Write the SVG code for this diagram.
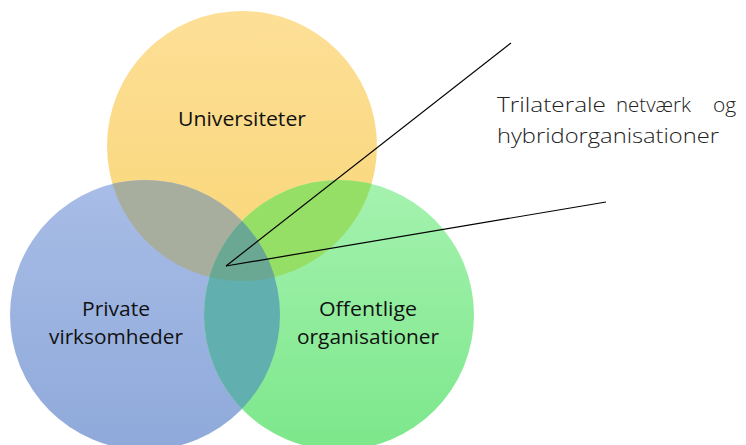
<svg xmlns="http://www.w3.org/2000/svg" width="746" height="445" viewBox="0 0 746 445">
<style>
.lbl{font-family:"Open Sans","Liberation Sans",sans-serif;font-size:20px;fill:#111;text-anchor:middle}
.call{font-family:"Open Sans","Liberation Sans",sans-serif;font-weight:300;font-size:21px;fill:#222}
.ln{stroke:#000;stroke-width:1.2;fill:none}
</style>
<defs>
<linearGradient id="gY" x1="0" y1="0" x2="0" y2="1"><stop offset="0" stop-color="#FDDF97"/><stop offset="1" stop-color="#F8D676"/></linearGradient>
<linearGradient id="gB" x1="0" y1="0" x2="0" y2="1"><stop offset="0" stop-color="#A8BDE7"/><stop offset="1" stop-color="#8FA9DA"/></linearGradient>
<linearGradient id="gG" x1="0" y1="0" x2="0" y2="1"><stop offset="0" stop-color="#A5F2AF"/><stop offset="1" stop-color="#7CE78B"/></linearGradient>
<clipPath id="cY"><circle cx="242" cy="146" r="135"/></clipPath>
<clipPath id="cB"><circle cx="145" cy="315" r="135"/></clipPath>
</defs>
<g id="universiteter">
<circle cx="242" cy="146" r="135" fill="url(#gY)"/>
<text class="lbl" x="242" y="126" font-size="22" textLength="128" lengthAdjust="spacingAndGlyphs">Universiteter</text>
</g>
<g id="private">
<circle cx="145" cy="315" r="135" fill="url(#gB)"/>
<text class="lbl" x="116" y="316" textLength="68" lengthAdjust="spacingAndGlyphs">Private</text>
<text class="lbl" x="116" y="344" textLength="134" lengthAdjust="spacingAndGlyphs">virksomheder</text>
</g>
<g id="offentlige">
<circle cx="339" cy="315" r="135" fill="url(#gG)"/>
<text class="lbl" x="368" y="316" textLength="98" lengthAdjust="spacingAndGlyphs">Offentlige</text>
<text class="lbl" x="368" y="344" textLength="142" lengthAdjust="spacingAndGlyphs">organisationer</text>
</g>
<g id="overlaps">
<g clip-path="url(#cY)"><circle cx="145" cy="315" r="135" fill="#A8AE9E"/></g>
<g clip-path="url(#cY)"><circle cx="339" cy="315" r="135" fill="#96DF66"/></g>
<g clip-path="url(#cB)"><circle cx="339" cy="315" r="135" fill="#61AFAE"/></g>
<g clip-path="url(#cY)"><g clip-path="url(#cB)"><circle cx="339" cy="315" r="135" fill="#6BA893"/></g></g>
</g>
<g id="connectors">
<line class="ln" x1="226" y1="266" x2="511" y2="43"/>
<line class="ln" x1="226" y1="266" x2="606" y2="202"/>
</g>
<g id="callout">
<text class="call" x="497" y="112" textLength="109" lengthAdjust="spacingAndGlyphs">Trilaterale</text>
<text class="call" x="616" y="112" textLength="75" lengthAdjust="spacingAndGlyphs">netværk</text>
<text class="call" x="713" y="112">og</text>
<text class="call" x="497" y="143" textLength="222" lengthAdjust="spacingAndGlyphs">hybridorganisationer</text>
</g>
</svg>
